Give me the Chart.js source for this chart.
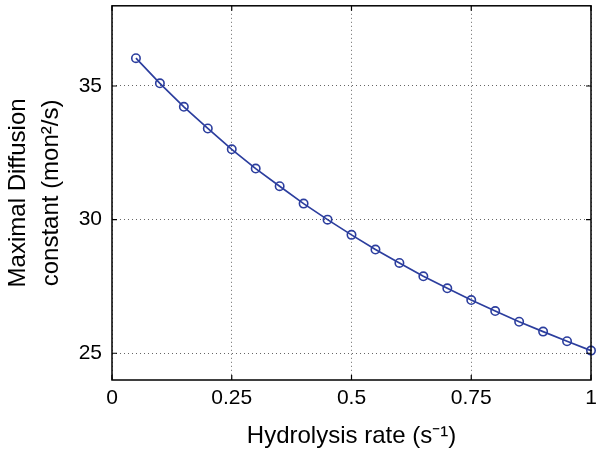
<!DOCTYPE html>
<html>
<head>
<meta charset="utf-8">
<script src="https://cdn.jsdelivr.net/npm/chart.js@4.4.1/dist/chart.umd.min.js"></script>
<style>
  html, body { margin: 0; padding: 0; background: #fff; }
  #wrap { width: 600px; height: 453px; }
</style>
</head>
<body>
<div id="wrap"><canvas id="diffusionChart" width="600" height="453"></canvas></div>
<script>
// values
const hydrolysisRate = [0.05, 0.10, 0.15, 0.20, 0.25, 0.30, 0.35, 0.40, 0.45, 0.50,
                        0.55, 0.60, 0.65, 0.70, 0.75, 0.80, 0.85, 0.90, 0.95, 1.00];
const maxDiffusion = [36.04, 35.10, 34.22, 33.41, 32.63, 31.91, 31.25, 30.60, 30.00, 29.43,
                      28.88, 28.38, 27.88, 27.43, 26.99, 26.58, 26.18, 25.81, 25.45, 25.10];
const xTicks = [0, 0.25, 0.5, 0.75, 1];
const xTickLabels = ['0', '0.25', '0.5', '0.75', '1'];
const yTicks = [25, 30, 35];
const yTickLabels = ['25', '30', '35'];

const fontFamily = '"Liberation Sans", Arial, Helvetica, sans-serif';
const lineBlue = '#2c3e9e';

// box around the plot + inward tick marks like matlab
const framePlugin = {
    id: 'frame',
    afterDraw(chart) {
        const { ctx, chartArea: a, scales } = chart;
        const len = 5;
        ctx.save();
        ctx.strokeStyle = '#000';
        ctx.lineWidth = 1.2;
        ctx.beginPath();
        scales.x.ticks.forEach(t => {
            const px = scales.x.getPixelForValue(t.value);
            ctx.moveTo(px, a.bottom); ctx.lineTo(px, a.bottom - len);
            ctx.moveTo(px, a.top); ctx.lineTo(px, a.top + len);
        });
        scales.y.ticks.forEach(t => {
            const py = scales.y.getPixelForValue(t.value);
            ctx.moveTo(a.left, py); ctx.lineTo(a.left + len, py);
            ctx.moveTo(a.right, py); ctx.lineTo(a.right - len, py);
        });
        ctx.stroke();
        ctx.lineWidth = 1.5;
        ctx.strokeRect(a.left, a.top, a.right - a.left, a.bottom - a.top);
        ctx.restore();
    }
};

const ctx = document.getElementById('diffusionChart');

new Chart(ctx, {
    type: 'line',
    data: {
        datasets: [{
            label: 'Maximal Diffusion constant',
            data: hydrolysisRate.map((r, i) => ({ x: r, y: maxDiffusion[i] })),
            borderColor: lineBlue,
            borderWidth: 1.7,
            pointRadius: 4.2,
            pointBorderWidth: 1.6,
            pointBorderColor: lineBlue,
            pointBackgroundColor: 'rgba(0,0,0,0)',
            tension: 0,
            fill: false,
            clip: false
        }]
    },
    options: {
        responsive: false,
        animation: false,
        layout: { padding: { left: 0, right: 9, top: 5, bottom: 0 } },
        plugins: {
            legend: { display: false },
            tooltip: { enabled: false }
        },
        scales: {
            x: {
                type: 'linear',
                min: 0,
                max: 1,
                afterBuildTicks: s => { s.ticks = xTicks.map(v => ({ value: v })); },
                afterFit: s => { s.height = 73; s.paddingLeft = 0; s.paddingRight = 0; },
                ticks: {
                    color: '#000',
                    padding: 6,
                    maxRotation: 0,
                    font: { family: fontFamily, size: 21 },
                    callback: (v, i) => xTickLabels[i]
                },
                grid: { color: '#666', lineWidth: 1, drawTicks: false },
                border: { display: false, dash: [1, 3] },
                title: {
                    display: true,
                    text: 'Hydrolysis rate (s\u207B\u00B9)',
                    color: '#000',
                    font: { family: fontFamily, size: 24, lineHeight: 1.2 },
                    padding: { top: 0, bottom: 2 }
                }
            },
            y: {
                type: 'linear',
                min: 24,
                max: 38,
                afterBuildTicks: s => { s.ticks = yTicks.map(v => ({ value: v })); },
                afterFit: s => { s.width = 112; s.paddingTop = 0; s.paddingBottom = 0; },
                ticks: {
                    color: '#000',
                    padding: 10,
                    font: { family: fontFamily, size: 21 },
                    callback: (v, i) => yTickLabels[i]
                },
                grid: { color: '#666', lineWidth: 1, drawTicks: false },
                border: { display: false, dash: [1, 3] },
                title: {
                    display: true,
                    text: ['Maximal Diffusion', 'constant (mon\u00B2/s)'],
                    color: '#000',
                    font: { family: fontFamily, size: 24, lineHeight: 1.375 },
                    padding: { top: 2, bottom: 0 }
                }
            }
        }
    },
    plugins: [framePlugin]
});
</script>
</body>
</html>
